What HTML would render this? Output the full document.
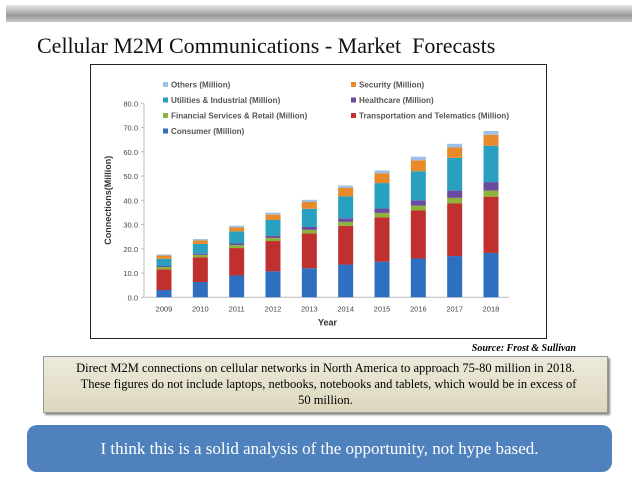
<!DOCTYPE html>
<html><head><meta charset="utf-8"><style>
body{margin:0;width:638px;height:479px;background:#fff;position:relative;overflow:hidden;font-family:"Liberation Serif",serif}
.hdr{position:absolute;left:6px;top:5px;width:626px;height:17px;background:linear-gradient(#e8e8e8,#9a9a9a 60%,#c8c8c8);}
.title{position:absolute;left:37px;top:33px;font-size:22px;color:#111;white-space:nowrap}
.box{position:absolute;left:90px;top:64px;width:455px;height:273px;border:1px solid #222;background:#fff}
.src{position:absolute;right:62px;top:343px;font-size:10px;font-weight:bold;font-style:italic}
.note{position:absolute;left:43px;top:356px;width:565px;height:57px;background:linear-gradient(#eeeadb,#dcd7bd);border:1px solid #999;box-shadow:2px 2px 2px #888;font-size:12.5px;text-align:center;line-height:16px;padding-top:3px;box-sizing:border-box}
.blue{position:absolute;left:27px;top:425px;width:585px;height:47px;background:#4f81bd;border-radius:10px;color:#fff;font-size:17px;text-align:center;line-height:47px}
</style></head><body>
<div class="hdr"></div>
<div class="title">Cellular M2M Communications - Market&nbsp; Forecasts</div>
<div class="box">
<svg id="chart" width="455" height="273" style="position:absolute;left:0;top:0;font-family:'Liberation Sans',sans-serif"></svg>
</div>
<div class="src">Source: Frost &amp; Sullivan</div>
<div class="note">Direct M2M connections on cellular networks in North America to approach 75-80 million in 2018.<br>&nbsp; These figures do not include laptops, netbooks, notebooks and tablets, which would be in excess of<br>50 million.</div>
<div class="blue">I think this is a solid analysis of the opportunity, not hype based.</div>
<script>
const years=["2009","2010","2011","2012","2013","2014","2015","2016","2017","2018"];
const consumer=[3,6.3,9,10.7,12,13.5,14.7,16,17,18.3];
const transport=[8.5,10.2,11.3,12.5,14.3,16,18.3,19.8,21.8,23.2];
const financial=[1,1,1.2,1.3,1.5,1.6,1.8,2,2.2,2.5];
const healthcare=[0.4,0.5,0.7,0.9,1.2,1.5,1.8,2.2,3,3.5];
const utilities=[3,4,5,6.5,7.5,9,10.5,12,13.5,15];
const security=[1.3,1.4,1.6,2.2,2.8,3.5,4,4.5,4.3,4.5];
const others=[0.5,0.6,0.7,0.8,0.9,1,1.2,1.5,1.5,1.6];
const yTicks=[0,10,20,30,40,50,60,70,80];
const seriesNames=["Consumer (Million)","Transportation and Telematics (Million)","Financial Services & Retail (Million)","Healthcare (Million)","Utilities & Industrial (Million)","Security (Million)","Others (Million)"];
const NS="http://www.w3.org/2000/svg";
const svg=document.getElementById('chart');
const ox=90,oy=64;
const y0=296.3-oy, pxPer=(296.3-102.3)/80;
const yS=v=>y0-v*pxPer;
const x0=163-ox, dx=(490-163)/9;
const xS=i=>x0+i*dx;
function el(t,a){const e=document.createElementNS(NS,t);for(const k in a)e.setAttribute(k,a[k]);svg.appendChild(e);return e;}
const data=[consumer,transport,financial,healthcare,utilities,security,others];
const colors=["#2f6fc0","#c0302f","#8cb33a","#6b4aa0","#2aa0c0","#e8892a","#9cc0e6"];
const ids=["consumer","transport","financial","healthcare","utilities","security","others"];
const ax=el('line',{x1:143-ox,x2:143-ox,y1:yS(80),y2:yS(0),stroke:'#bbb'});


const bx=el('line',{x1:143-ox,x2:xS(9)+18,y1:yS(0),y2:yS(0),stroke:'#bbb'});


yTicks.forEach(v=>{
 el('line',{x1:140-ox,x2:143-ox,y1:yS(v),y2:yS(v),stroke:'#bbb'});
 const t=el('text',{x:137-ox,y:yS(v)+3,'font-size':7.5,'text-anchor':'end',fill:'#444'});t.textContent=v.toFixed(1);
 
 
});
years.forEach((yr,i)=>{
 let c=0;
 data.forEach((s,k)=>{
  const h=s[i]*pxPer;
  const r=el('rect',{x:xS(i)-7.5,y:yS(c+s[i]),width:15,height:h,fill:colors[k]});
  
  
  c+=s[i];
 });
 const t=el('text',{x:xS(i),y:yS(0)+14,'font-size':7.5,'text-anchor':'middle',fill:'#444'});t.textContent=yr;
 
 
});
const xt=el('text',{x:(xS(0)+xS(9))/2,y:yS(0)+28,'font-size':9,'font-weight':'bold','text-anchor':'middle',fill:'#333'});xt.textContent='Year';


const yt=el('text',{x:0,y:0,'font-size':9,'font-weight':'bold','text-anchor':'middle',fill:'#333',transform:`translate(${110-ox},${yS(40)}) rotate(-90)`});yt.textContent='Connections(Million)';


const legPos=[[0,3],[1,2],[0,2],[1,1],[0,1],[1,0],[0,0]];
seriesNames.forEach((n,k)=>{
 const col=legPos[k][0],row=legPos[k][1];
 const lx=(col?350:162)-ox, ly=84+row*15.5-oy;
 const sw=el('rect',{x:lx,y:ly-3,width:5,height:5,fill:colors[k]});
 
 
 const t=el('text',{x:lx+8,y:ly+2.5,'font-size':8.1,'font-weight':'bold',fill:'#555'});t.textContent=n;
 
 
});
</script>
</body></html>
